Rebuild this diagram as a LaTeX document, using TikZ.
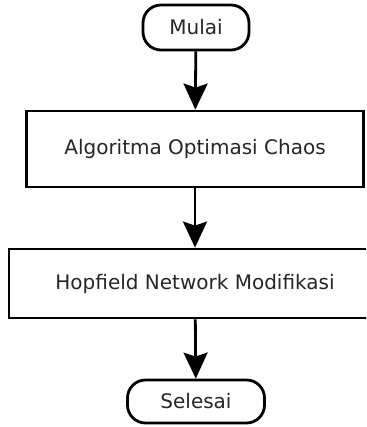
\documentclass[tikz,border=0pt]{standalone}
\usepackage{fontspec}
\setmainfont{DejaVu Sans}
\usetikzlibrary{arrows.meta}
\begin{document}
\begin{tikzpicture}[x=1pt,y=-1pt,
  every node/.style={font=\fontsize{20}{24}\selectfont, text=black!85},
  term/.style={draw=black, line width=2.8pt, rounded corners=18pt, fill=white, inner sep=0pt},
  procbox/.style={draw=black, line width=2.8pt, fill=white, inner sep=0pt},
  flow/.style={line width=2.8pt, -{Stealth[length=26pt, width=24pt, inset=4pt]}}]
\clip (0,0) rectangle (366,427);
\fill[white] (0,0) rectangle (366,427);
\node[term, minimum width=106pt, minimum height=45pt] (mulai) at (196,27.5) {Mulai};
\node[procbox, minimum width=337pt, minimum height=76pt] (aoc) at (195,149) {Algoritma Optimasi Chaos};
\node[procbox, minimum width=372pt, minimum height=69pt] (hnm) at (195,283.5) {Hopfield Network Modifikasi};
\node[term, minimum width=137pt, minimum height=43pt] (selesai) at (196,401.5) {Selesai};
\draw[flow] (mulai) -- (aoc);
\draw[flow] (aoc) -- (hnm);
\draw[flow] (hnm) -- (selesai);
\end{tikzpicture}
\end{document}
